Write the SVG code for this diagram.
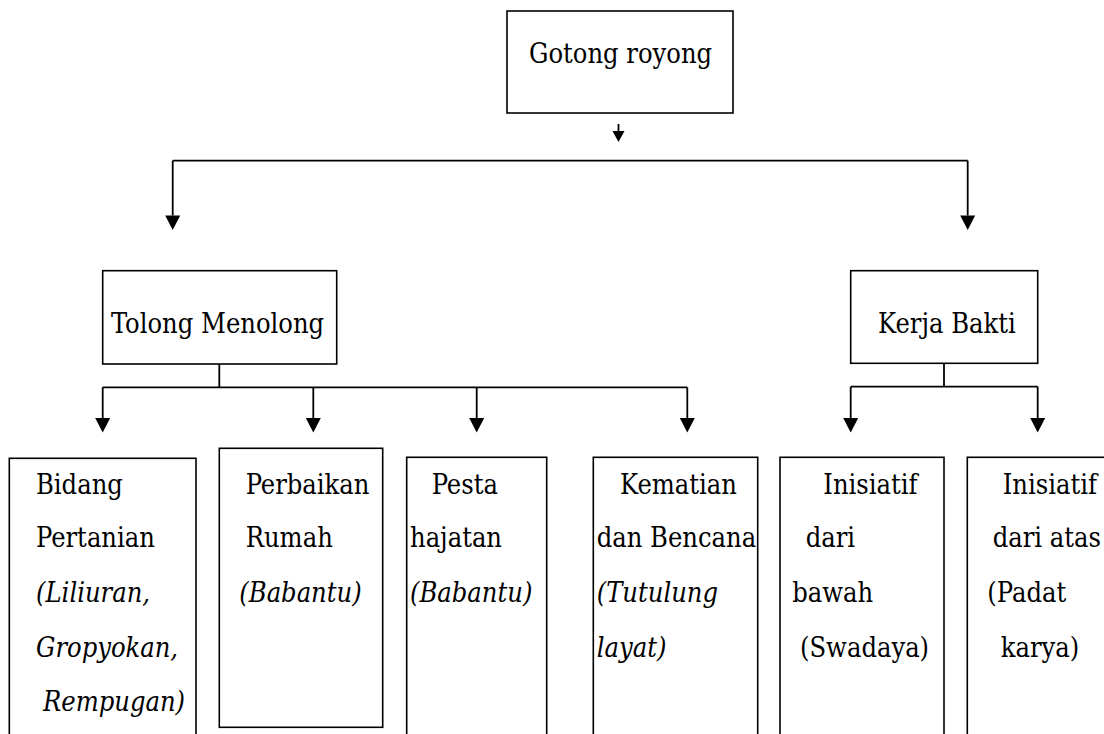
<svg xmlns="http://www.w3.org/2000/svg" width="1104" height="734" viewBox="0 0 1104 734">
<style>
  .box { fill: #fff; stroke: #000; stroke-width: 1.6; }
  text { font-family: 'DejaVu Serif', 'Liberation Serif', serif; font-stretch: condensed; font-size: 27px; fill: #000; }
  .i { font-style: italic; }
  .c { fill: none; stroke: #000; stroke-width: 1.8; }
  .ca { fill: none; stroke: #000; stroke-width: 1.8; marker-end: url(#ah); }
  .cs { fill: none; stroke: #000; stroke-width: 1.8; marker-end: url(#ahs); }
</style>
<defs>
  <marker id="ah" markerUnits="userSpaceOnUse" markerWidth="15" markerHeight="15" refX="0" refY="7.5" orient="auto" overflow="visible">
    <path d="M0,0 L14.5,7.5 L0,15 z" fill="#000"/>
  </marker>
  <marker id="ahs" markerUnits="userSpaceOnUse" markerWidth="12" markerHeight="12" refX="0" refY="6" orient="auto" overflow="visible">
    <path d="M0,0 L11,6 L0,12 z" fill="#000"/>
  </marker>
</defs>
<rect width="1104" height="734" fill="#fff"/>

<g id="connectors">
  <path class="cs" d="M618.5,124 L618.5,131"/>
  <path class="c" d="M172.7,160.7 L967.7,160.7"/>
  <path class="ca" d="M172.7,160.7 L172.7,215.5"/>
  <path class="ca" d="M967.7,160.7 L967.7,215.5"/>
  <path class="c" d="M219.3,364 L219.3,387.3 M102.7,387.3 L687.3,387.3"/>
  <path class="ca" d="M102.7,387.3 L102.7,418"/>
  <path class="ca" d="M313.3,387.3 L313.3,418"/>
  <path class="ca" d="M476.7,387.3 L476.7,418"/>
  <path class="ca" d="M687.3,387.3 L687.3,418"/>
  <path class="c" d="M944,363.3 L944,386.7 M850.7,386.7 L1037.7,386.7"/>
  <path class="ca" d="M850.7,386.7 L850.7,418"/>
  <path class="ca" d="M1037.7,386.7 L1037.7,418"/>
</g>

<g id="gotong-royong">
  <rect class="box" x="507" y="11" width="226" height="102"/>
  <text x="529" y="63">Gotong royong</text>
</g>

<g id="tolong-menolong">
  <rect class="box" x="102.7" y="270.7" width="234" height="93.3"/>
  <text x="111" y="333">Tolong Menolong</text>
</g>

<g id="kerja-bakti">
  <rect class="box" x="850.7" y="270.7" width="187" height="92.6"/>
  <text x="878" y="333">Kerja Bakti</text>
</g>

<g id="bidang-pertanian">
  <rect class="box" x="9.3" y="458.3" width="186.7" height="290"/>
  <text x="36" y="494">Bidang</text>
  <text x="36" y="547.3">Pertanian</text>
  <text class="i" x="36" y="601.7">(Liliuran,</text>
  <text class="i" x="36" y="656.7">Gropyokan,</text>
  <text class="i" x="43" y="710.7">Rempugan)</text>
</g>

<g id="perbaikan-rumah">
  <rect class="box" x="219.3" y="448.3" width="163.4" height="279"/>
  <text x="245.7" y="494">Perbaikan</text>
  <text x="245.7" y="547.3">Rumah</text>
  <text class="i" x="239.3" y="601.7">(Babantu)</text>
</g>

<g id="pesta-hajatan">
  <rect class="box" x="406.7" y="457.3" width="140" height="290"/>
  <text x="431.7" y="494">Pesta</text>
  <text x="410" y="547.3">hajatan</text>
  <text class="i" x="410" y="601.7">(Babantu)</text>
</g>

<g id="kematian-bencana">
  <rect class="box" x="593.3" y="457.3" width="164.4" height="290"/>
  <text x="620" y="494">Kematian</text>
  <text x="596.7" y="547.3">dan Bencana</text>
  <text class="i" x="596.7" y="601.7">(Tutulung</text>
  <text class="i" x="596.7" y="656.7">layat)</text>
</g>

<g id="inisiatif-bawah">
  <rect class="box" x="780" y="457.3" width="164" height="290"/>
  <text x="823.3" y="494">Inisiatif</text>
  <text x="805.7" y="547.3">dari</text>
  <text x="792.3" y="601.7">bawah</text>
  <text x="800" y="656.7">(Swadaya)</text>
</g>

<g id="inisiatif-atas">
  <rect class="box" x="967.3" y="457.3" width="150" height="290"/>
  <text x="1002.7" y="494">Inisiatif</text>
  <text x="992.7" y="547.3">dari atas</text>
  <text x="987.3" y="601.7">(Padat</text>
  <text x="1000.7" y="656.7">karya)</text>
</g>
</svg>
